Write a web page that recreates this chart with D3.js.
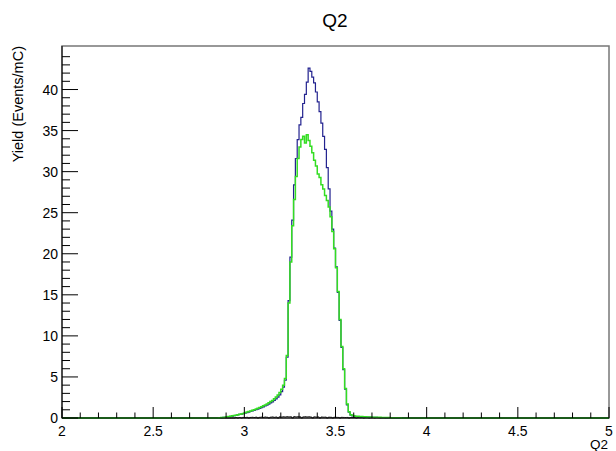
<!DOCTYPE html>
<html>
<head>
<meta charset="utf-8">
<script src="https://cdn.jsdelivr.net/npm/d3@7"></script>
<style>
  body { margin: 0; background: #fff; }
  svg { display: block; font-family: "Liberation Sans", Arial, sans-serif; }
</style>
</head>
<body>
<div id="chart"></div>
<script>
// Binning: 0.01 wide bins starting at binStart; outside the listed bins the histograms are 0
const binStart = 2.85
const binWidth = 0.01
const xDomain = [2, 5]
const yMax = 45.3

const blueValues = [
  0.00, 0.02, 0.04, 0.07, 0.09, 0.13, 0.16, 0.21, 0.24, 0.29,
  0.33, 0.38, 0.43, 0.47, 0.52, 0.60, 0.66, 0.71, 0.80, 0.86,
  0.93, 1.02, 1.08, 1.18, 1.26, 1.35, 1.47, 1.55, 1.70, 1.84,
  1.96, 2.15, 2.32, 2.55, 2.82, 3.20, 3.75, 4.60, 7.40, 14.3,
  19.6, 24.1, 28.4, 31.6, 33.9, 35.7, 36.6, 38.3, 39.4, 40.9,
  42.6, 42.2, 41.5, 40.8, 39.7, 38.5, 37.3, 35.9, 34.3, 32.7,
  30.5, 27.9, 25.2, 23.0, 20.7, 18.4, 15.3, 11.9, 8.6, 5.9,
  3.5, 1.6, 0.70, 0.36, 0.26, 0.21, 0.18, 0.16, 0.15, 0.13,
  0.12, 0.12, 0.10, 0.10, 0.09, 0.08, 0.08, 0.07, 0.06, 0.06,
  0.05, 0.05, 0.04, 0.04, 0.03, 0.03, 0.03, 0.02, 0.02, 0.02,
  0.01, 0.01, 0.01, 0.00, 0.00
]

const greenValues = [
  0.00, 0.02, 0.05, 0.07, 0.10, 0.14, 0.17, 0.22, 0.26, 0.30,
  0.35, 0.40, 0.45, 0.50, 0.56, 0.64, 0.72, 0.78, 0.85, 0.94,
  1.00, 1.10, 1.18, 1.28, 1.36, 1.48, 1.58, 1.70, 1.86, 2.00,
  2.14, 2.34, 2.56, 2.80, 3.10, 3.50, 4.00, 4.80, 7.60, 14.0,
  19.0, 23.4, 26.6, 29.4, 31.6, 33.0, 33.9, 34.3, 33.5, 34.5,
  33.8, 33.1, 32.3, 31.4, 30.7, 29.7, 29.3, 28.4, 27.9, 27.1,
  26.5, 25.7, 24.5, 22.7, 20.6, 18.3, 15.4, 12.0, 8.7, 6.0,
  3.6, 1.7, 0.75, 0.40, 0.30, 0.25, 0.22, 0.20, 0.18, 0.17,
  0.15, 0.14, 0.13, 0.12, 0.11, 0.10, 0.10, 0.09, 0.08, 0.08,
  0.07, 0.06, 0.06, 0.05, 0.05, 0.04, 0.04, 0.03, 0.03, 0.02,
  0.02, 0.01, 0.01, 0.00, 0.00
]

const blackValues = [
  0.00, 0.00, 0.00, 0.00, 0.00, 0.00, 0.00, 0.00, 0.00, 0.00,
  0.05, 0.00, 0.06, 0.00, 0.07, 0.05, 0.08, 0.00, 0.07, 0.09,
  0.06, 0.10, 0.00, 0.08, 0.11, 0.07, 0.12, 0.09, 0.00, 0.10,
  0.13, 0.08, 0.12, 0.00, 0.14, 0.11, 0.15, 0.12, 0.16, 0.14,
  0.15, 0.00, 0.17, 0.13, 0.16, 0.15, 0.00, 0.14, 0.16, 0.13,
  0.15, 0.12, 0.00, 0.14, 0.11, 0.13, 0.00, 0.12, 0.10, 0.11,
  0.00, 0.10, 0.09, 0.00, 0.09, 0.08, 0.07, 0.00, 0.08, 0.07,
  0.06, 0.07, 0.00, 0.06, 0.05, 0.06, 0.00, 0.05, 0.04, 0.05,
  0.00, 0.04, 0.04, 0.00, 0.03, 0.03, 0.00, 0.03, 0.02, 0.00,
  0.02, 0.02, 0.00, 0.01, 0.01, 0.00, 0.00, 0.00, 0.00, 0.00,
  0.00, 0.00, 0.00, 0.00, 0.00
]

const xTickLabels = ["2", "2.5", "3", "3.5", "4", "4.5", "5"]
const yTickLabels = ["0", "5", "10", "15", "20", "25", "30", "35", "40"]

const width = 616, height = 451
const margin = { top: 46, right: 7, bottom: 33, left: 62 }
const iw = width - margin.left - margin.right
const ih = height - margin.top - margin.bottom

const svg = d3.select("#chart").append("svg")
  .attr("width", width).attr("height", height)

const x = d3.scaleLinear().domain(xDomain).range([margin.left, margin.left + iw])
const y = d3.scaleLinear().domain([0, yMax]).range([margin.top + ih, margin.top])

// Title
svg.append("text")
  .attr("x", 335).attr("y", 27)
  .attr("text-anchor", "middle")
  .attr("font-size", 19)
  .text("Q2")

// Frame
svg.append("rect")
  .attr("x", margin.left).attr("y", margin.top)
  .attr("width", iw).attr("height", ih)
  .attr("fill", "none").attr("stroke", "#777").attr("stroke-width", 1.5)

// Step path helper (ROOT-like histogram outline)
function histPath(values) {
  const pts = [[xDomain[0], 0], [binStart, 0]]
  values.forEach((v, i) => {
    const lo = binStart + i * binWidth
    pts.push([lo, v], [lo + binWidth, v])
  })
  const end = binStart + values.length * binWidth
  pts.push([end, 0], [xDomain[1], 0])
  return d3.line().x(d => x(d[0])).y(d => y(d[1]))(pts)
}

const g = svg.append("g")
g.append("path").attr("d", histPath(blackValues))
  .attr("fill", "none").attr("stroke", "#222").attr("stroke-width", 1)
g.append("path").attr("d", histPath(blueValues))
  .attr("fill", "none").attr("stroke", "#22228f").attr("stroke-width", 1.2)
g.append("path").attr("d", histPath(greenValues))
  .attr("fill", "none").attr("stroke", "#33dd22").attr("stroke-width", 1.5)

// X axis
const xMajor = xTickLabels.map(Number)
const xMinor = d3.range(21, 50).map(d => d / 10).filter(d => !xMajor.some(m => Math.abs(m - d) < 1e-9))
const xAxisG = svg.append("g")
xAxisG.selectAll("line.major").data(xMajor).join("line")
  .attr("x1", d => x(d)).attr("x2", d => x(d))
  .attr("y1", y(0)).attr("y2", y(0) - 11)
  .attr("stroke", "#000")
xAxisG.selectAll("line.minor").data(xMinor).join("line")
  .attr("x1", d => x(d)).attr("x2", d => x(d))
  .attr("y1", y(0)).attr("y2", y(0) - 5.5)
  .attr("stroke", "#000")
xAxisG.selectAll("text").data(xTickLabels).join("text")
  .attr("x", d => x(+d)).attr("y", 436)
  .attr("text-anchor", "middle")
  .attr("font-size", 14)
  .text(d => d)
svg.append("line")
  .attr("x1", margin.left).attr("x2", margin.left + iw)
  .attr("y1", y(0)).attr("y2", y(0)).attr("stroke", "#000")

// Y axis
const yMajor = yTickLabels.map(Number)
const yMinor = d3.range(1, 46).filter(d => d % 5 !== 0 && d <= yMax)
const yAxisG = svg.append("g")
yAxisG.selectAll("line.major").data(yMajor).join("line")
  .attr("x1", margin.left).attr("x2", margin.left + 16)
  .attr("y1", d => y(d)).attr("y2", d => y(d))
  .attr("stroke", "#000")
yAxisG.selectAll("line.minor").data(yMinor).join("line")
  .attr("x1", margin.left).attr("x2", margin.left + 8)
  .attr("y1", d => y(d)).attr("y2", d => y(d))
  .attr("stroke", "#000")
yAxisG.selectAll("text").data(yTickLabels).join("text")
  .attr("x", 58).attr("y", d => y(+d) + 5)
  .attr("text-anchor", "end")
  .attr("font-size", 14)
  .text(d => d)
svg.append("line")
  .attr("x1", margin.left).attr("x2", margin.left)
  .attr("y1", margin.top).attr("y2", margin.top + ih).attr("stroke", "#000")

// Axis titles
svg.append("text")
  .attr("x", 608).attr("y", 449)
  .attr("text-anchor", "end")
  .attr("font-size", 13.5)
  .text("Q2")
svg.append("text")
  .attr("transform", `translate(23, ${margin.top}) rotate(-90)`)
  .attr("text-anchor", "end")
  .attr("font-size", 14.5)
  .text("Yield (Events/mC)")
</script>
</body>
</html>
